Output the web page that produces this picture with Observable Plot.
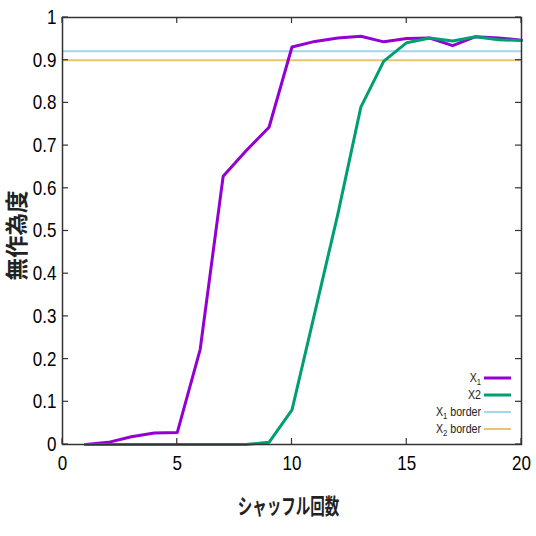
<!DOCTYPE html>
<html>
<head>
<meta charset="utf-8">
<script src="https://cdn.jsdelivr.net/npm/d3@7"></script>
<script src="https://cdn.jsdelivr.net/npm/@observablehq/plot@0.6"></script>
<style>
  html, body { margin: 0; padding: 0; background: #fff; }
</style>
</head>
<body>
<div id="chart"></div>
<script>
const shuffles = [1,2,3,4,5,6,7,8,9,10,11,12,13,14,15,16,17,18,19,20];
const x1Values = [0, 0.005, 0.018, 0.027, 0.028, 0.223, 0.628, 0.688, 0.743, 0.931, 0.944, 0.952, 0.956, 0.943, 0.951, 0.952, 0.934, 0.955, 0.952, 0.947];
const x2Values = [0, 0, 0, 0, 0, 0, 0, 0, 0.005, 0.081, 0.31, 0.54, 0.79, 0.898, 0.941, 0.952, 0.945, 0.955, 0.948, 0.946];
const x1Border = 0.921;
const x2Border = 0.9;
const xTicks = [0, 5, 10, 15, 20];
const yTicks = [0, 0.1, 0.2, 0.3, 0.4, 0.5, 0.6, 0.7, 0.8, 0.9, 1];
const xLabel = "シャッフル回数";
const yLabel = "無作為度";
const seriesNames = ["X1", "X2", "X1 border", "X2 border"];

const colX1 = "#9400d3", colX2 = "#009e73", colB1 = "#a3d5ee", colB2 = "#e9c46f";

const d1 = shuffles.map((s, i) => ({s, v: x1Values[i]}));
const d2 = shuffles.map((s, i) => ({s, v: x2Values[i]}));

const chart = Plot.plot({
  width: 536, height: 536,
  marginLeft: 62, marginRight: 15, marginTop: 17, marginBottom: 92,
  style: {fontFamily: "'Liberation Sans', Arial, sans-serif", fontSize: "20px", color: "#000", background: "#fff"},
  x: {domain: [0, 20]},
  y: {domain: [0, 1]},
  marks: [
    Plot.axisX({ticks: xTicks, tickSize: 0, tickPadding: 11, label: null, fontSize: 20, tickFormat: d => String(d)}),
    Plot.axisY({ticks: yTicks, tickSize: 0, tickPadding: 6, label: null, fontSize: 20, tickFormat: d => String(d)}),
    Plot.ruleY([x1Border], {stroke: colB1, strokeWidth: 2}),
    Plot.ruleY([x2Border], {stroke: colB2, strokeWidth: 2}),
    Plot.line(d1, {x: "s", y: "v", stroke: colX1, strokeWidth: 3}),
    Plot.line(d2, {x: "s", y: "v", stroke: colX2, strokeWidth: 3}),
    Plot.frame({stroke: "#333", strokeWidth: 1.5})
  ]
});

const svg = d3.select(chart);
// condense tick labels horizontally (narrow face as in the reference)
svg.selectAll('g[aria-label="x-axis tick label"] text, g[aria-label="y-axis tick label"] text')
  .attr("transform", function () { return (this.getAttribute("transform") || "") + " scale(0.85,1)"; });

const xs = chart.scale("x"), ys = chart.scale("y");
const [L, R] = xs.range;
const [B, T] = ys.range;
const tl = 6;
const g = svg.append("g").attr("stroke", "#333").attr("stroke-width", 1.2);
xTicks.forEach(t => {
  const px = xs.apply(t);
  g.append("line").attr("x1", px).attr("x2", px).attr("y1", B).attr("y2", B - tl);
  g.append("line").attr("x1", px).attr("x2", px).attr("y1", T).attr("y2", T + tl);
});
yTicks.forEach(t => {
  const py = ys.apply(t);
  g.append("line").attr("x1", L).attr("x2", L + tl).attr("y1", py).attr("y2", py);
  g.append("line").attr("x1", R).attr("x2", R - tl).attr("y1", py).attr("y2", py);
});

// axis titles
svg.append("text")
  .attr("transform", `translate(${(L + R) / 2 - 3},${B + 70}) scale(0.66,1)`)
  .attr("text-anchor", "middle")
  .attr("font-family", "'Noto Sans CJK JP', sans-serif")
  .attr("font-weight", "bold")
  .attr("font-size", 22)
  .attr("fill", "#222")
  .text(xLabel);
svg.append("text")
  .attr("transform", `translate(25,${(T + B) / 2 + 5}) rotate(-90)`)
  .attr("text-anchor", "middle")
  .attr("font-family", "'Noto Sans CJK JP', sans-serif")
  .attr("font-weight", "bold")
  .attr("font-size", 22.5)
  .attr("fill", "#222")
  .text(yLabel);

// legend (gnuplot style, inside bottom-right)
const legend = [
  {label: seriesNames[0], color: colX1, w: 3},
  {label: seriesNames[1], color: colX2, w: 3},
  {label: seriesNames[2], color: colB1, w: 2},
  {label: seriesNames[3], color: colB2, w: 2}
];
const lg = svg.append("g");
legend.forEach((e, i) => {
  const y = B - 66 + i * 17;
  lg.append("line").attr("x1", R - 37).attr("x2", R - 10).attr("y1", y).attr("y2", y)
    .attr("stroke", e.color).attr("stroke-width", e.w);
  const t = lg.append("text")
    .attr("transform", `translate(${R - 40},${y + 4}) scale(0.85,1)`)
    .attr("text-anchor", "end")
    .attr("font-family", "'Liberation Sans', Arial, sans-serif")
    .attr("font-size", 12.5)
    .attr("fill", "#222");
  const m = e.label.match(/^X(\d)(.*)$/);
  if (e.label === "X2") {
    t.text("X2");
  } else {
    t.append("tspan").text("X");
    t.append("tspan").attr("font-size", 9).attr("dy", 3).text(m[1]);
    if (m[2]) t.append("tspan").attr("dy", -3).text(m[2]);
  }
});

document.getElementById("chart").appendChild(chart);
</script>
</body>
</html>
